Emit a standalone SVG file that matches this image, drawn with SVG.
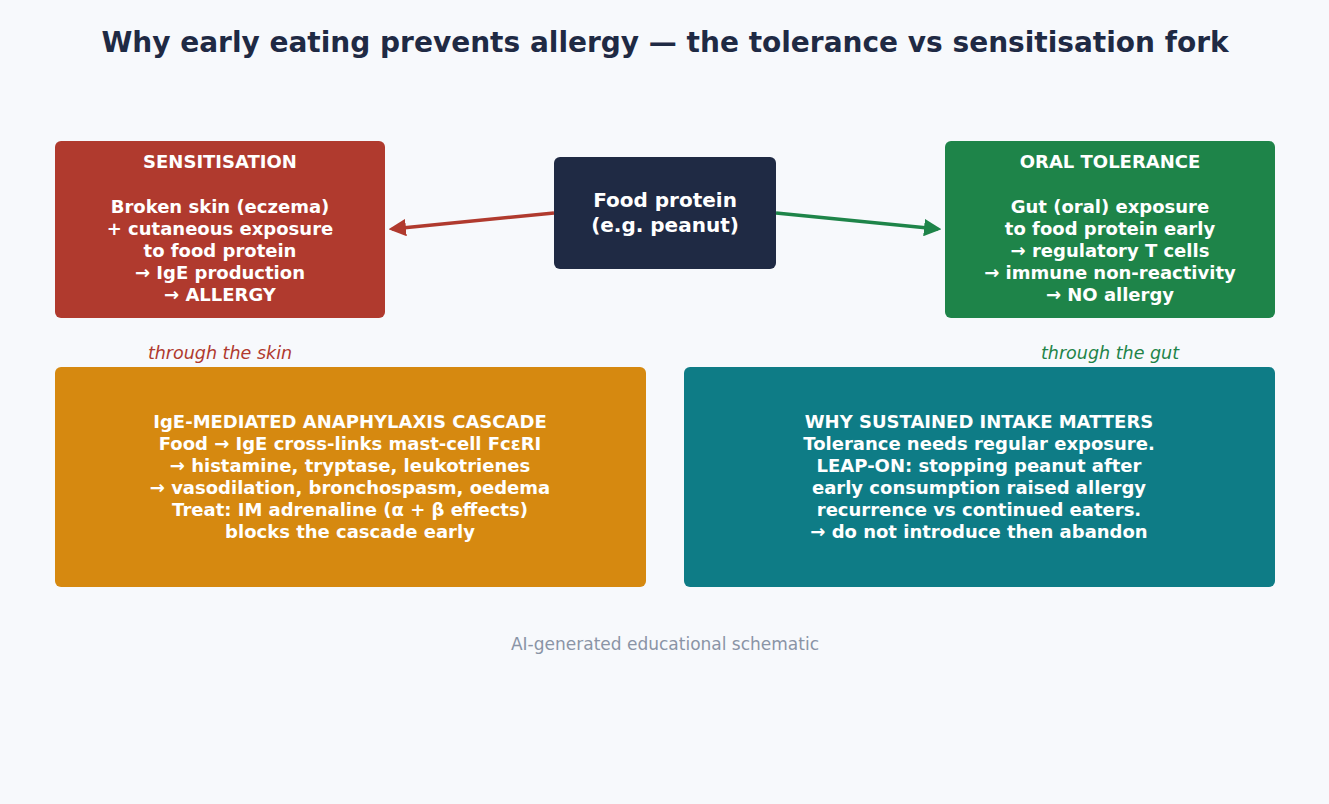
<svg xmlns="http://www.w3.org/2000/svg" width="1329" height="804" viewBox="0 0 1329 804">
<defs>
<style>
.t{font-family:"DejaVu Sans",sans-serif;font-weight:bold;fill:#fff;text-anchor:middle;font-size:18px}
.title{font-family:"DejaVu Sans",sans-serif;font-weight:bold;fill:#1f2a44;text-anchor:middle;font-size:28px}
.lab{font-family:"DejaVu Sans",sans-serif;font-style:italic;text-anchor:middle;font-size:17.5px}
.foot{font-family:"DejaVu Sans",sans-serif;fill:#8a94a6;text-anchor:middle;font-size:17px}
</style>
<marker id="ar" viewBox="0 0 10 10" refX="8" refY="5" markerWidth="5" markerHeight="5" orient="auto"><path d="M0,0 L10,5 L0,10 z" fill="#b03a2e"/></marker>
<marker id="ag" viewBox="0 0 10 10" refX="8" refY="5" markerWidth="5" markerHeight="5" orient="auto"><path d="M0,0 L10,5 L0,10 z" fill="#1e8449"/></marker>
</defs>
<rect width="1329" height="804" fill="#f7f9fc"/>
<text class="title" x="665" y="52">Why early eating prevents allergy — the tolerance vs sensitisation fork</text>
<g id="connectors">
<line x1="554" y1="213" x2="392" y2="229" stroke="#b03a2e" stroke-width="3.5" marker-end="url(#ar)"/>
<line x1="776" y1="213" x2="938" y2="229" stroke="#1e8449" stroke-width="3.5" marker-end="url(#ag)"/>
</g>
<g id="sensitisation">
<rect x="55" y="141" width="330" height="177" rx="6" fill="#b03a2e"/>
<text class="t" x="220" y="167.5">SENSITISATION</text>
<text class="t" x="220" y="212.5">Broken skin (eczema)</text>
<text class="t" x="220" y="234.5">+ cutaneous exposure</text>
<text class="t" x="220" y="256.5">to food protein</text>
<text class="t" x="220" y="278.5">→ IgE production</text>
<text class="t" x="220" y="300.5">→ ALLERGY</text>
</g>
<g id="food">
<rect x="554" y="157" width="222" height="112" rx="6" fill="#1f2a44"/>
<text class="t" x="665" y="207" style="font-size:20px">Food protein</text>
<text class="t" x="665" y="232" style="font-size:20px">(e.g. peanut)</text>
</g>
<g id="tolerance">
<rect x="945" y="141" width="330" height="177" rx="6" fill="#1e8449"/>
<text class="t" x="1110" y="167.5">ORAL TOLERANCE</text>
<text class="t" x="1110" y="212.5">Gut (oral) exposure</text>
<text class="t" x="1110" y="234.5">to food protein early</text>
<text class="t" x="1110" y="256.5">→ regulatory T cells</text>
<text class="t" x="1110" y="278.5">→ immune non-reactivity</text>
<text class="t" x="1110" y="300.5">→ NO allergy</text>
</g>
<g id="labels">
<text class="lab" x="220" y="359" fill="#b03a2e">through the skin</text>
<text class="lab" x="1110" y="359" fill="#1e8449">through the gut</text>
</g>
<g id="anaphylaxis">
<rect x="55" y="367" width="591" height="220" rx="6" fill="#d68910"/>
<text class="t" x="350" y="427.5">IgE-MEDIATED ANAPHYLAXIS CASCADE</text>
<text class="t" x="350" y="449.5">Food → IgE cross-links mast-cell FcεRI</text>
<text class="t" x="350" y="471.5">→ histamine, tryptase, leukotrienes</text>
<text class="t" x="350" y="493.5">→ vasodilation, bronchospasm, oedema</text>
<text class="t" x="350" y="515.5">Treat: IM adrenaline (α + β effects)</text>
<text class="t" x="350" y="537.5">blocks the cascade early</text>
</g>
<g id="sustained">
<rect x="684" y="367" width="591" height="220" rx="6" fill="#0e7c86"/>
<text class="t" x="979" y="427.5">WHY SUSTAINED INTAKE MATTERS</text>
<text class="t" x="979" y="449.5">Tolerance needs regular exposure.</text>
<text class="t" x="979" y="471.5">LEAP-ON: stopping peanut after</text>
<text class="t" x="979" y="493.5">early consumption raised allergy</text>
<text class="t" x="979" y="515.5">recurrence vs continued eaters.</text>
<text class="t" x="979" y="537.5">→ do not introduce then abandon</text>
</g>
<text class="foot" x="665" y="650">AI-generated educational schematic</text>
</svg>
